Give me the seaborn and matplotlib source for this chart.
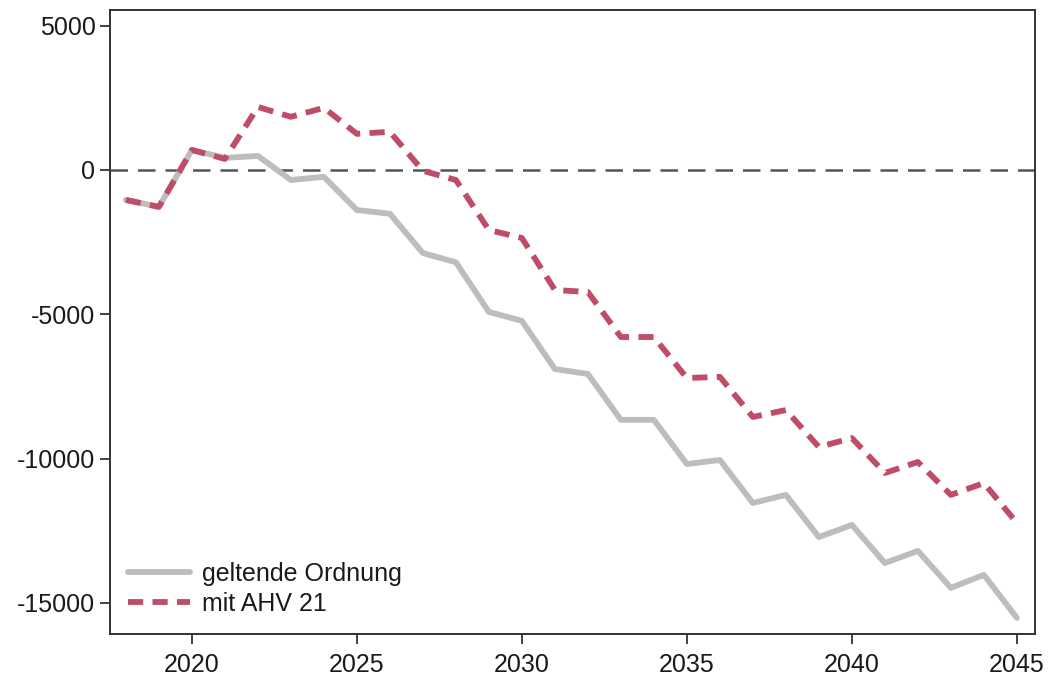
import matplotlib
matplotlib.use("Agg")
import matplotlib.pyplot as plt
import seaborn as sns
import pandas as pd

years = list(range(2018, 2046))

geltende_ordnung = [
    -1040, -1280, 690, 415, 485, -350, -240, -1390, -1520, -2880,
    -3200, -4920, -5230, -6900, -7070, -8660, -8660, -10190, -10050, -11540,
    -11260, -12720, -12300, -13620, -13200, -14480, -14030, -15520,
]

mit_ahv21 = [
    -1040, -1280, 690, 380, 2180, 1840, 2150, 1250, 1320, -30,
    -350, -2080, -2360, -4160, -4230, -5790, -5790, -7210, -7170, -8560,
    -8320, -9600, -9290, -10500, -10120, -11260, -10850, -12230,
]

series_names = ["geltende Ordnung", "mit AHV 21"]
y_ticks = [5000, 0, -5000, -10000, -15000]
x_ticks = [2020, 2025, 2030, 2035, 2040, 2045]

df = pd.DataFrame({
    "Jahr": years * 2,
    "Wert": geltende_ordnung + mit_ahv21,
    "Szenario": [series_names[0]] * len(years) + [series_names[1]] * len(years),
})

sns.set_theme(style="white")
plt.rcParams["font.family"] = ["Liberation Sans", "DejaVu Sans"]

fig = plt.figure(figsize=(10.51, 6.80), dpi=100)
ax = fig.add_axes([0.1047, 0.0676, 0.8801, 0.9177])

gray = "#bdbdbd"
red = "#bf4d68"

ax.axhline(0, color="#555555", lw=1.8, ls=(0, (7, 4)), zorder=1)

sns.lineplot(data=df[df["Szenario"] == series_names[0]], x="Jahr", y="Wert",
             color=gray, lw=4.2, ax=ax, label=series_names[0], zorder=2)
sns.lineplot(data=df[df["Szenario"] == series_names[1]], x="Jahr", y="Wert",
             color=red, lw=4.2, ls=(0, (2.6, 1.6)), ax=ax, label=series_names[1],
             zorder=3)

ax.set_xlim(2017.52, 2045.55)
ax.set_ylim(-16080, 5540)
ax.set_xticks(x_ticks)
ax.set_yticks(y_ticks)
ax.set_xticklabels([str(t) for t in x_ticks])
ax.set_yticklabels([str(t) for t in y_ticks])
ax.set_xlabel("")
ax.set_ylabel("")

ax.tick_params(axis="both", which="major", direction="out", length=7, width=1.3,
               color="#333333", labelsize=18, labelcolor="#1a1a1a",
               bottom=True, left=True)
ax.tick_params(axis="x", pad=7)
ax.tick_params(axis="y", pad=3.5)
for side in ["left", "right", "top", "bottom"]:
    ax.spines[side].set_visible(True)
    ax.spines[side].set_color("#333333")
    ax.spines[side].set_linewidth(1.4)

leg = ax.legend(loc="lower left", frameon=False, fontsize=18, handlelength=2.45,
                handletextpad=0.5, labelspacing=0.25,
                bbox_to_anchor=(0.0, 0.0), borderaxespad=0.33)
for t in leg.get_texts():
    t.set_color("#1a1a1a")

fig.savefig("out.png", dpi=100)
